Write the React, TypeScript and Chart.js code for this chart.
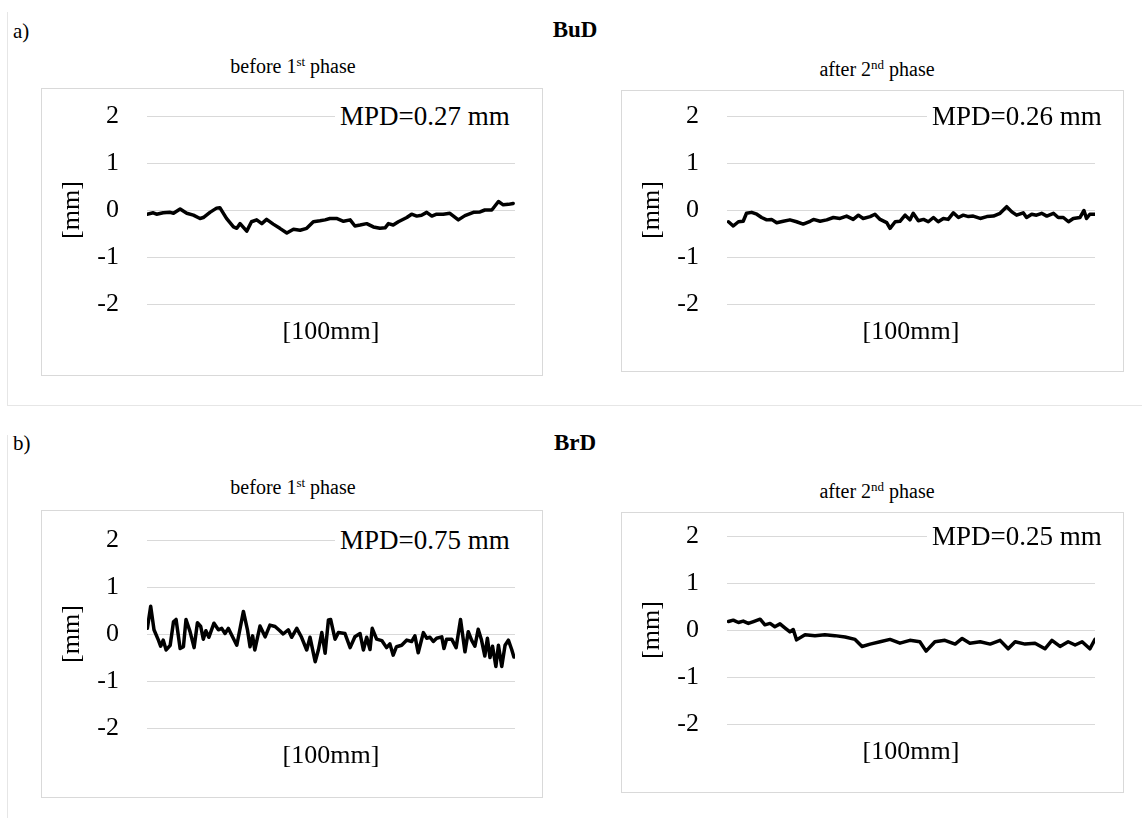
import React, { useEffect, useRef } from "react";
import { Chart, registerables } from "chart.js";
Chart.register(...registerables);

// ---------- data ----------
const yTickValues = [-2, -1, 0, 1, 2];
const xAxisLabel = "[100mm]";
const yAxisLabel = "[mm]";

// a) BuD – before 1st phase (position along profile [%], height [mm])
const budBeforePos = [0, 1.7, 2.6, 4.4, 6.3, 7.2, 9.0, 10.8, 12.6, 14.4, 15.3, 17.1, 18.9, 19.8, 21.6, 23.5, 24.4, 25.3, 27.1, 28.4, 29.8, 31.2, 32.5, 34.3, 36.1, 38.0, 39.8, 41.6, 43.4, 45.2, 47.0, 48.4, 49.7, 51.5, 53.4, 55.2, 56.5, 57.9, 59.7, 61.5, 63.3, 64.7, 65.6, 66.9, 68.3, 70.6, 71.9, 73.3, 74.6, 76.0, 77.4, 78.7, 80.5, 82.3, 84.6, 86.4, 88.7, 90.5, 91.8, 93.7, 95.5, 96.8, 98.2, 99.5];
const budBeforeVal = [-0.09, -0.06, -0.09, -0.06, -0.05, -0.07, 0.02, -0.07, -0.11, -0.18, -0.16, -0.05, 0.04, 0.05, -0.18, -0.36, -0.39, -0.29, -0.45, -0.25, -0.21, -0.29, -0.2, -0.3, -0.39, -0.49, -0.41, -0.43, -0.39, -0.25, -0.23, -0.21, -0.18, -0.18, -0.24, -0.21, -0.34, -0.32, -0.29, -0.36, -0.39, -0.38, -0.29, -0.32, -0.25, -0.16, -0.09, -0.13, -0.11, -0.05, -0.13, -0.09, -0.09, -0.07, -0.21, -0.12, -0.05, -0.04, 0.0, 0.0, 0.18, 0.11, 0.12, 0.14];

// a) BuD – after 2nd phase
const budAfterPos = [0.4, 1.7, 3.1, 4.4, 5.3, 6.7, 8.1, 9.4, 10.8, 12.1, 13.5, 15.3, 17.1, 18.9, 20.7, 22.6, 23.5, 25.3, 27.1, 28.9, 30.7, 32.5, 34.3, 35.7, 37.0, 38.9, 40.2, 41.6, 43.4, 44.3, 45.7, 47.0, 48.4, 49.7, 50.6, 52.0, 53.4, 54.7, 56.1, 57.4, 58.8, 60.1, 61.5, 62.9, 64.2, 65.6, 66.9, 68.8, 70.6, 72.4, 74.2, 76.0, 77.4, 78.7, 80.5, 81.4, 82.8, 84.1, 85.5, 86.9, 88.7, 90.0, 91.4, 92.8, 94.1, 95.9, 97.0, 97.7, 98.6, 100];
const budAfterVal = [-0.25, -0.34, -0.25, -0.24, -0.07, -0.05, -0.09, -0.16, -0.21, -0.2, -0.27, -0.24, -0.21, -0.25, -0.3, -0.24, -0.2, -0.24, -0.21, -0.16, -0.18, -0.13, -0.2, -0.11, -0.18, -0.14, -0.09, -0.2, -0.27, -0.39, -0.25, -0.24, -0.11, -0.21, -0.07, -0.23, -0.2, -0.25, -0.16, -0.25, -0.18, -0.2, -0.06, -0.16, -0.11, -0.14, -0.13, -0.18, -0.14, -0.13, -0.07, 0.07, -0.04, -0.11, -0.06, -0.16, -0.09, -0.11, -0.07, -0.13, -0.07, -0.16, -0.16, -0.25, -0.18, -0.16, -0.01, -0.18, -0.09, -0.09];

// b) BrD – before 1st phase
const brdBeforePos = [0.1, 1.0, 1.9, 3.1, 3.7, 4.4, 5.2, 6.3, 7.2, 7.9, 9.0, 9.9, 10.6, 11.7, 12.8, 13.7, 14.6, 15.3, 16.0, 16.8, 18.2, 19.4, 20.3, 21.2, 22.1, 23.0, 24.4, 26.2, 27.3, 28.0, 28.7, 29.3, 30.7, 32.1, 33.4, 34.8, 36.1, 37.0, 38.4, 39.3, 40.7, 42.0, 43.4, 44.3, 45.7, 46.6, 47.5, 48.4, 49.3, 49.9, 51.1, 52.0, 53.8, 55.2, 56.5, 57.9, 58.8, 59.7, 60.6, 61.2, 62.4, 63.8, 65.1, 66.0, 66.9, 67.8, 69.2, 70.6, 71.9, 72.8, 73.7, 75.1, 76.0, 76.9, 77.8, 78.7, 80.1, 80.7, 81.4, 82.8, 84.0, 85.2, 86.4, 87.3, 88.2, 89.1, 90.0, 90.9, 91.8, 92.5, 93.2, 93.9, 94.8, 95.5, 96.4, 97.3, 98.2, 99.1, 99.7];
const brdBeforeVal = [0.12, 0.59, 0.09, -0.13, -0.26, -0.13, -0.34, -0.24, 0.26, 0.31, -0.31, -0.27, 0.31, 0.05, -0.29, 0.24, 0.16, -0.11, 0.07, -0.07, 0.23, 0.09, 0.12, 0.01, 0.12, -0.02, -0.24, 0.48, 0.09, -0.27, -0.04, -0.34, 0.17, -0.06, 0.19, 0.16, 0.07, 0.0, 0.09, -0.07, 0.12, -0.07, -0.34, -0.07, -0.59, -0.33, 0.03, -0.41, 0.3, 0.31, -0.11, 0.03, 0.01, -0.29, -0.06, 0.01, -0.34, -0.07, -0.33, 0.12, -0.11, -0.14, -0.29, -0.21, -0.45, -0.27, -0.24, -0.13, -0.16, -0.04, -0.4, 0.03, -0.09, -0.07, -0.16, -0.09, -0.06, -0.31, -0.11, -0.11, -0.29, 0.31, -0.38, 0.05, -0.13, -0.26, 0.1, -0.13, -0.47, -0.09, -0.5, -0.26, -0.69, -0.24, -0.69, -0.24, -0.13, -0.33, -0.49];

// b) BrD – after 2nd phase
const brdAfterPos = [0.4, 1.7, 3.1, 4.4, 5.8, 7.2, 9.0, 10.3, 11.7, 13.0, 14.4, 15.8, 17.1, 18.0, 18.9, 21.2, 23.9, 26.6, 29.3, 32.1, 34.8, 36.7, 38.9, 41.6, 44.3, 47.0, 49.7, 52.4, 54.1, 56.5, 59.2, 62.0, 63.9, 66.0, 68.8, 71.5, 74.2, 76.4, 78.3, 81.0, 83.7, 86.4, 88.3, 90.5, 92.7, 94.6, 96.5, 98.6, 100];
const brdAfterVal = [0.18, 0.21, 0.16, 0.19, 0.14, 0.18, 0.23, 0.11, 0.14, 0.07, 0.13, 0.04, -0.04, 0.01, -0.21, -0.1, -0.12, -0.1, -0.12, -0.15, -0.2, -0.35, -0.3, -0.25, -0.2, -0.28, -0.22, -0.25, -0.45, -0.25, -0.22, -0.3, -0.18, -0.28, -0.25, -0.3, -0.22, -0.4, -0.25, -0.3, -0.28, -0.4, -0.22, -0.35, -0.25, -0.32, -0.25, -0.4, -0.2];

const mpdTexts = ["MPD=0.27 mm", "MPD=0.26 mm", "MPD=0.75 mm", "MPD=0.25 mm"];

// ---------- styling ----------
const SERIF = "'Liberation Serif', 'Times New Roman', 'DejaVu Serif', serif";
const AX_FONT = 26;
const GRID = "#d9d9d9";

type Box = { x: number; y: number; w: number; h: number };
type Plot = { x0: number; x1: number; y0: number; y1: number };

function Panel(props: {
  box: Box;
  plot: Plot;
  pos: number[];
  val: number[];
  mpd: string;
  mpdX: number;
}) {
  const { box, plot, pos, val, mpd, mpdX } = props;
  const ref = useRef<HTMLCanvasElement | null>(null);
  const cx = box.x + 1;
  const cy = box.y + 1;
  const cw = box.w - 2;
  const ch = box.h - 2;

  useEffect(() => {
    const lh = AX_FONT * 1.2;
    const chart = new Chart(ref.current as HTMLCanvasElement, {
      type: "line",
      data: {
        datasets: [
          {
            data: pos.map((p, i) => ({ x: p, y: val[i] })),
            borderColor: "#000",
            borderWidth: 3.5,
            pointRadius: 0,
            tension: 0,
            fill: false,
            borderJoinStyle: "round",
            borderCapStyle: "round",
          },
        ],
      },
      options: {
        animation: false,
        responsive: false,
        maintainAspectRatio: false,
        events: [],
        plugins: { legend: { display: false }, tooltip: { enabled: false } },
        layout: {
          padding: { left: 0, top: plot.y0 - cy, right: cx + cw - plot.x1, bottom: 0 },
        },
        scales: {
          x: {
            type: "linear",
            min: 0,
            max: 100,
            grid: { display: false, drawTicks: false },
            border: { display: false },
            ticks: { display: false },
            title: {
              display: true,
              text: xAxisLabel,
              color: "#000",
              font: { family: SERIF, size: AX_FONT },
              padding: { top: 0, bottom: cy + ch - (plot.y1 + 28) - lh / 2 },
            },
            afterFit: (s: any) => {
              s.height = cy + ch - plot.y1;
              s.paddingLeft = 0;
              s.paddingRight = 0;
            },
          },
          y: {
            min: -2,
            max: 2,
            afterBuildTicks: (s: any) => {
              s.ticks = yTickValues.map((v) => ({ value: v }));
            },
            ticks: {
              color: "#000",
              font: { family: SERIF, size: AX_FONT },
              padding: 28,
              callback: (v: any) => String(v),
            },
            grid: { color: GRID, lineWidth: 1, drawTicks: false },
            border: { display: false },
            title: {
              display: true,
              text: yAxisLabel,
              color: "#000",
              font: { family: SERIF, size: AX_FONT },
              padding: { top: 15, bottom: 0 },
            },
            afterFit: (s: any) => {
              s.width = plot.x0 - cx;
              s.paddingTop = 0;
              s.paddingBottom = 0;
            },
          },
        },
      },
    } as any);
    return () => chart.destroy();
  }, []);

  return (
    <>
      <div
        style={{
          position: "absolute",
          left: box.x,
          top: box.y,
          width: box.w,
          height: box.h,
          border: "1px solid " + GRID,
          boxSizing: "border-box",
          background: "#fff",
        }}
      >
        <canvas
          ref={ref}
          width={cw}
          height={ch}
          style={{ position: "absolute", left: 0, top: 0, width: cw, height: ch }}
        />
      </div>
      <div
        style={{
          position: "absolute",
          left: mpdX - 5,
          top: plot.y0 - 16,
          width: plot.x1 - mpdX + 10,
          height: 32,
          lineHeight: "32px",
          paddingLeft: 5,
          boxSizing: "border-box",
          background: "#fff",
          fontFamily: SERIF,
          fontSize: 27,
          color: "#000",
          whiteSpace: "nowrap",
        }}
      >
        {mpd}
      </div>
    </>
  );
}

function Title(props: { cx: number; cy: number; ord: string; word: string }) {
  return (
    <div
      style={{
        position: "absolute",
        left: props.cx - 150,
        width: 300,
        top: props.cy - 12,
        height: 24,
        lineHeight: "24px",
        textAlign: "center",
        fontFamily: SERIF,
        fontSize: 20,
        color: "#000",
        whiteSpace: "nowrap",
      }}
    >
      {props.word}{" "}
      {props.ord.slice(0, 1)}
      <span style={{ fontSize: 13, position: "relative", top: -7 }}>{props.ord.slice(1)}</span> phase
    </div>
  );
}

function Label(props: { x: number; cy: number; text: string; bold?: boolean; center?: boolean }) {
  return (
    <div
      style={{
        position: "absolute",
        left: props.center ? props.x - 100 : props.x,
        width: props.center ? 200 : undefined,
        textAlign: props.center ? "center" : "left",
        top: props.cy - 14,
        height: 28,
        lineHeight: "28px",
        fontFamily: SERIF,
        fontSize: props.bold ? 23 : 21,
        fontWeight: props.bold ? 700 : 400,
        color: "#000",
      }}
    >
      {props.text}
    </div>
  );
}

export default function App() {
  return (
    <div
      style={{
        position: "fixed",
        left: 0,
        top: 0,
        width: 1142,
        height: 818,
        background: "#fff",
        overflow: "hidden",
      }}
    >
      {/* section frames */}
      <div style={{ position: "absolute", left: 7, top: 12, width: 1140, height: 393, borderLeft: "1px solid #e6e6e6", borderBottom: "1px solid #e6e6e6" }} />
      <div style={{ position: "absolute", left: 7, top: 435, width: 1, height: 383, background: "#e6e6e6" }} />

      <Label x={13} cy={31} text="a)" />
      <Label x={575} cy={30} text="BuD" bold center />
      <Title cx={293} cy={66} word="before" ord="1st" />
      <Title cx={877} cy={69} word="after" ord="2nd" />
      <Panel
        box={{ x: 41, y: 88, w: 502, h: 288 }}
        plot={{ x0: 147, x1: 515, y0: 116, y1: 304 }}
        pos={budBeforePos}
        val={budBeforeVal}
        mpd={mpdTexts[0]}
        mpdX={340}
      />
      <Panel
        box={{ x: 621, y: 90, w: 503, h: 282 }}
        plot={{ x0: 727, x1: 1095, y0: 116, y1: 304 }}
        pos={budAfterPos}
        val={budAfterVal}
        mpd={mpdTexts[1]}
        mpdX={932}
      />

      <Label x={13} cy={443} text="b)" />
      <Label x={575} cy={443} text="BrD" bold center />
      <Title cx={293} cy={487} word="before" ord="1st" />
      <Title cx={877} cy={491} word="after" ord="2nd" />
      <Panel
        box={{ x: 41, y: 510, w: 502, h: 288 }}
        plot={{ x0: 147, x1: 515, y0: 540, y1: 728 }}
        pos={brdBeforePos}
        val={brdBeforeVal}
        mpd={mpdTexts[2]}
        mpdX={340}
      />
      <Panel
        box={{ x: 621, y: 512, w: 503, h: 281 }}
        plot={{ x0: 727, x1: 1095, y0: 536, y1: 724 }}
        pos={brdAfterPos}
        val={brdAfterVal}
        mpd={mpdTexts[3]}
        mpdX={932}
      />
    </div>
  );
}
